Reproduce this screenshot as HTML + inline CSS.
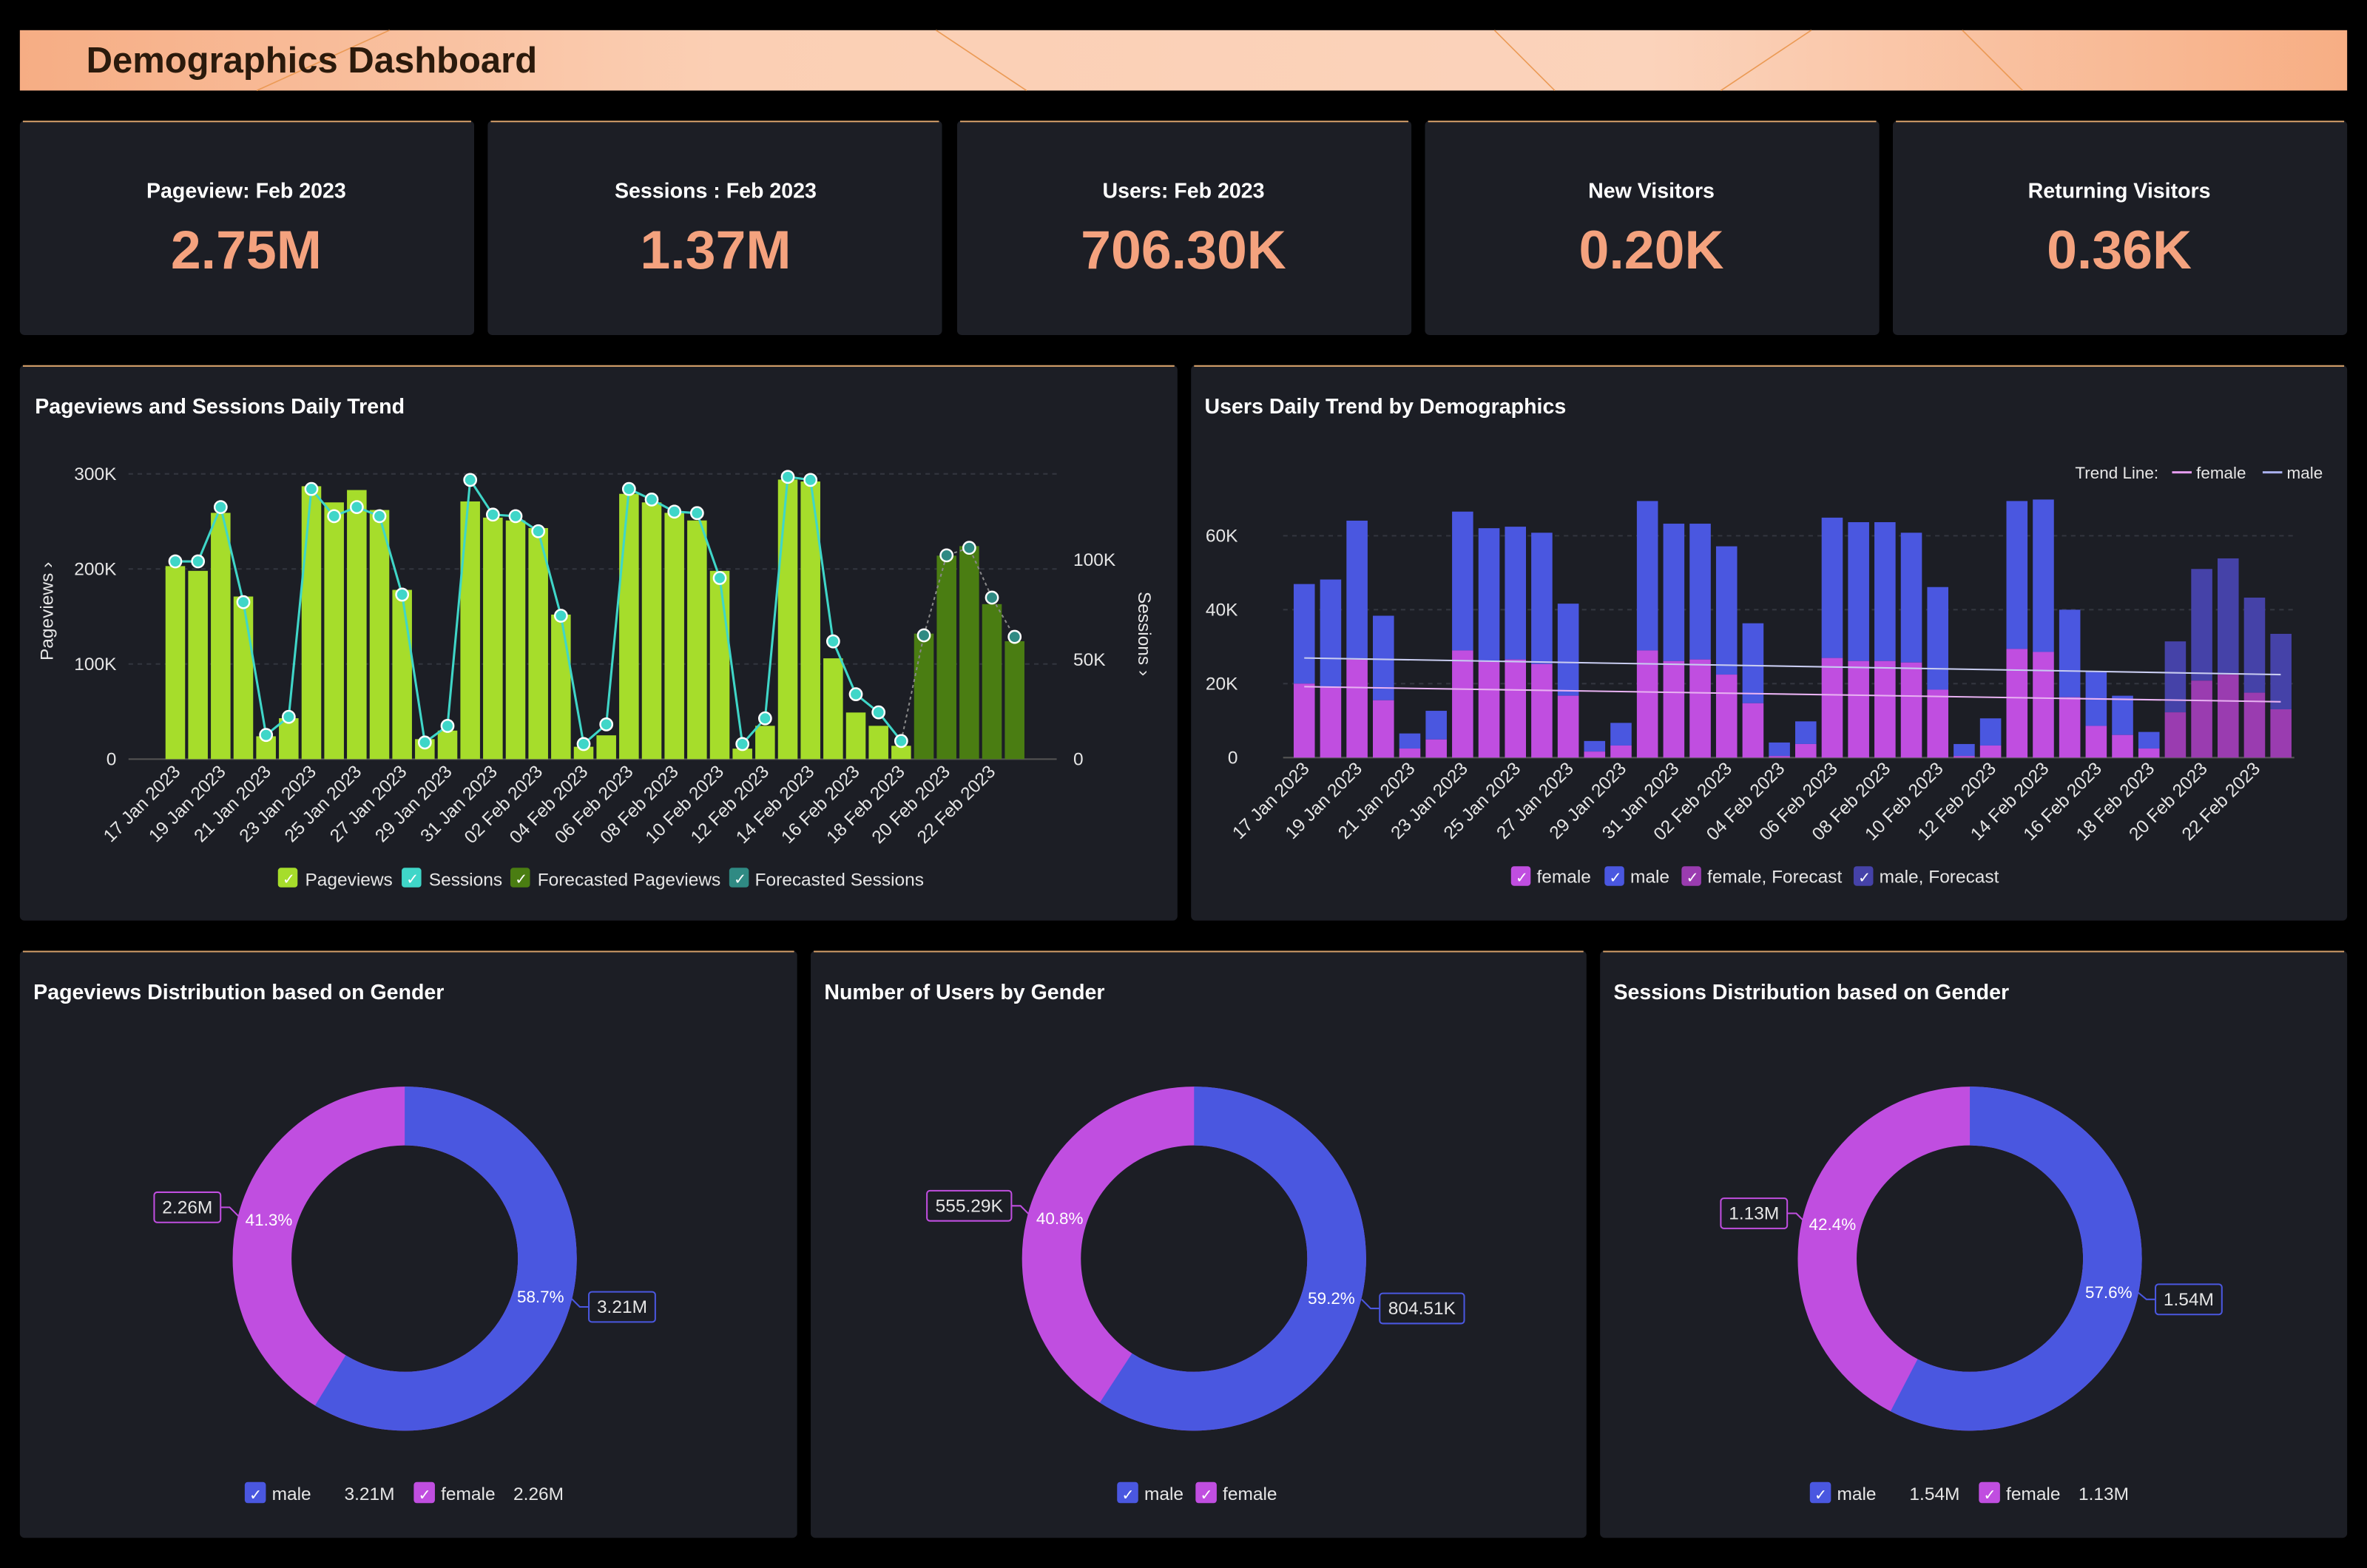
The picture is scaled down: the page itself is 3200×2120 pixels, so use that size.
<!DOCTYPE html>
<html><head><meta charset="utf-8"><style>
html,body{margin:0;padding:0;background:#000;}
svg{display:block;font-family:"Liberation Sans",sans-serif;}
</style></head><body>
<svg id="s" xmlns="http://www.w3.org/2000/svg" width="3200" height="2120" viewBox="0 0 1568 1039">
<defs>
<linearGradient id="hg" x1="0" x2="1" y1="0" y2="0">
<stop offset="0" stop-color="#f6ad84"/><stop offset="0.3" stop-color="#fbcfb4"/><stop offset="0.7" stop-color="#fbd3bb"/><stop offset="1" stop-color="#f7ae84"/></linearGradient>
</defs>
<rect width="1568" height="1039" fill="#000"/>
<rect x="13" y="20" width="1542" height="40" fill="url(#hg)"/>
<g stroke="#eb9a55" stroke-width="0.8" fill="none">
<line x1="170" y1="60" x2="258" y2="20"/><line x1="620" y1="20" x2="680" y2="60"/><line x1="990" y1="20" x2="1030" y2="60"/><line x1="1140" y1="60" x2="1200" y2="20"/><line x1="1300" y1="20" x2="1340" y2="60"/>
</g>
<text x="57" y="48" font-size="24" font-weight="bold" fill="#2b1a0c">Demographics Dashboard</text>

<g id="kpis"></g>

<!-- chart panels -->
<rect x="13" y="242" width="767" height="368" rx="3" fill="#1c1e25"/>
<line x1="15" y1="242.5" x2="778" y2="242.5" stroke="#d6a06a" stroke-width="1"/>
<rect x="789" y="242" width="766" height="368" rx="3" fill="#1c1e25"/>
<line x1="791" y1="242.5" x2="1553" y2="242.5" stroke="#d6a06a" stroke-width="1"/>
<text x="23" y="274" font-size="14" font-weight="bold" fill="#fff">Pageviews and Sessions Daily Trend</text>
<text x="798" y="274" font-size="14" font-weight="bold" fill="#fff">Users Daily Trend by Demographics</text>

<!-- chart1 axes -->
<g font-size="12" fill="#e6e6e6">
<text x="77" y="318" text-anchor="end">300K</text>
<text x="77" y="381" text-anchor="end">200K</text>
<text x="77" y="444" text-anchor="end">100K</text>
<text x="77" y="507" text-anchor="end">0</text>
<text x="711" y="375">100K</text>
<text x="711" y="441">50K</text>
<text x="711" y="507">0</text>
<text transform="translate(35,405) rotate(-90)" text-anchor="middle" font-size="12">Pageviews ›</text>
<text transform="translate(754,420) rotate(90)" text-anchor="middle" font-size="12">Sessions ›</text>
</g>
<g stroke="#33363f" stroke-dasharray="3,3"><line x1="85" y1="314" x2="700" y2="314"/><line x1="85" y1="377" x2="700" y2="377"/><line x1="85" y1="440" x2="700" y2="440"/></g>
<line x1="85" y1="503" x2="700" y2="503" stroke="#555"/>
<g id="c1"></g>
<g id="c1l" font-size="12" fill="#e6e6e6"></g>

<!-- chart2 axes -->
<g font-size="12" fill="#e6e6e6">
<text x="820" y="359" text-anchor="end">60K</text>
<text x="820" y="408" text-anchor="end">40K</text>
<text x="820" y="457" text-anchor="end">20K</text>
<text x="820" y="506" text-anchor="end">0</text>
<text x="1430" y="317" text-anchor="end" font-size="11">Trend Line:</text>
<line x1="1439" y1="313" x2="1452" y2="313" stroke="#e59cf0" stroke-width="1.5"/><text x="1455" y="317" font-size="11">female</text>
<line x1="1499" y1="313" x2="1512" y2="313" stroke="#a9b0ee" stroke-width="1.5"/><text x="1515" y="317" font-size="11">male</text>
</g>
<g stroke="#33363f" stroke-dasharray="3,3"><line x1="850" y1="355" x2="1520" y2="355"/><line x1="850" y1="404" x2="1520" y2="404"/><line x1="850" y1="453" x2="1520" y2="453"/></g>
<line x1="850" y1="502" x2="1520" y2="502" stroke="#555"/>
<g id="c2"></g>
<line x1="864" y1="455" x2="1511" y2="465" stroke="#e8b2f2" stroke-width="1"/>
<line x1="864" y1="436" x2="1511" y2="447" stroke="#c8ccf0" stroke-width="1"/>
<g id="c2l" font-size="12" fill="#e6e6e6"></g>

<!-- legends charts -->
<g font-size="12" fill="#e6e6e6">
<rect x="184" y="575" width="13" height="13" rx="2" fill="#a6dd2b"/><text x="187" y="586" font-size="10" fill="#fff">✓</text><text x="202" y="587">Pageviews</text>
<rect x="266" y="575" width="13" height="13" rx="2" fill="#3fd6c8"/><text x="269" y="586" font-size="10" fill="#fff">✓</text><text x="284" y="587">Sessions</text>
<rect x="338" y="575" width="13" height="13" rx="2" fill="#4a7d12"/><text x="341" y="586" font-size="10" fill="#fff">✓</text><text x="356" y="587">Forecasted Pageviews</text>
<rect x="483" y="575" width="13" height="13" rx="2" fill="#2f8a83"/><text x="486" y="586" font-size="10" fill="#fff">✓</text><text x="500" y="587">Forecasted Sessions</text>

<rect x="1001" y="574" width="13" height="13" rx="2" fill="#c04ee0"/><text x="1004" y="585" font-size="10" fill="#fff">✓</text><text x="1018" y="585">female</text>
<rect x="1063" y="574" width="13" height="13" rx="2" fill="#4a57e0"/><text x="1066" y="585" font-size="10" fill="#fff">✓</text><text x="1080" y="585">male</text>
<rect x="1114" y="574" width="13" height="13" rx="2" fill="#9a3cb0"/><text x="1117" y="585" font-size="10" fill="#fff">✓</text><text x="1131" y="585">female, Forecast</text>
<rect x="1228" y="574" width="13" height="13" rx="2" fill="#4542a8"/><text x="1231" y="585" font-size="10" fill="#fff">✓</text><text x="1245" y="585">male, Forecast</text>
</g>

<!-- bottom panels -->
<rect x="13" y="630" width="515" height="389" rx="3" fill="#1c1e25"/><line x1="15" y1="630.5" x2="526" y2="630.5" stroke="#d6a06a"/>
<rect x="537" y="630" width="514" height="389" rx="3" fill="#1c1e25"/><line x1="539" y1="630.5" x2="1049" y2="630.5" stroke="#d6a06a"/>
<rect x="1060" y="630" width="495" height="389" rx="3" fill="#1c1e25"/><line x1="1062" y1="630.5" x2="1553" y2="630.5" stroke="#d6a06a"/>
<g font-size="14" font-weight="bold" fill="#fff">
<text x="22" y="662">Pageviews Distribution based on Gender</text>
<text x="546" y="662">Number of Users by Gender</text>
<text x="1069" y="662">Sessions Distribution based on Gender</text>
</g>
<g id="donuts"></g>
<g font-size="12" fill="#e6e6e6">
<text x="178" y="812" font-size="11" fill="#fff" text-anchor="middle">41.3%</text>
<text x="358" y="863" font-size="11" fill="#fff" text-anchor="middle">58.7%</text>
<rect x="102" y="790" width="44" height="20" rx="2" fill="#1c1e25" stroke="#c04ee0"/><text x="124" y="804" text-anchor="middle">2.26M</text>
<rect x="390" y="856" width="44" height="20" rx="2" fill="#1c1e25" stroke="#4a57e0"/><text x="412" y="870" text-anchor="middle">3.21M</text>
<polyline points="146,800 152,800 158,806" fill="none" stroke="#c04ee0"/><polyline points="378,860 384,866 390,866" fill="none" stroke="#4a57e0"/>

<text x="702" y="811" font-size="11" fill="#fff" text-anchor="middle">40.8%</text>
<text x="882" y="864" font-size="11" fill="#fff" text-anchor="middle">59.2%</text>
<rect x="614" y="789" width="56" height="20" rx="2" fill="#1c1e25" stroke="#c04ee0"/><text x="642" y="803" text-anchor="middle">555.29K</text>
<rect x="914" y="857" width="56" height="20" rx="2" fill="#1c1e25" stroke="#4a57e0"/><text x="942" y="871" text-anchor="middle">804.51K</text>
<polyline points="670,799 676,799 682,805" fill="none" stroke="#c04ee0"/><polyline points="902,861 908,867 914,867" fill="none" stroke="#4a57e0"/>

<text x="1214" y="815" font-size="11" fill="#fff" text-anchor="middle">42.4%</text>
<text x="1397" y="860" font-size="11" fill="#fff" text-anchor="middle">57.6%</text>
<rect x="1140" y="794" width="44" height="20" rx="2" fill="#1c1e25" stroke="#c04ee0"/><text x="1162" y="808" text-anchor="middle">1.13M</text>
<rect x="1428" y="851" width="44" height="20" rx="2" fill="#1c1e25" stroke="#4a57e0"/><text x="1450" y="865" text-anchor="middle">1.54M</text>
<polyline points="1184,804 1190,804 1196,810" fill="none" stroke="#c04ee0"/><polyline points="1416,856 1422,861 1428,861" fill="none" stroke="#4a57e0"/>

<rect x="162" y="982" width="14" height="14" rx="2" fill="#4a57e0"/><text x="165" y="994" font-size="10" fill="#fff">✓</text><text x="180" y="994">male</text><text x="228" y="994">3.21M</text>
<rect x="274" y="982" width="14" height="14" rx="2" fill="#c04ee0"/><text x="277" y="994" font-size="10" fill="#fff">✓</text><text x="292" y="994">female</text><text x="340" y="994">2.26M</text>
<rect x="740" y="982" width="14" height="14" rx="2" fill="#4a57e0"/><text x="743" y="994" font-size="10" fill="#fff">✓</text><text x="758" y="994">male</text>
<rect x="792" y="982" width="14" height="14" rx="2" fill="#c04ee0"/><text x="795" y="994" font-size="10" fill="#fff">✓</text><text x="810" y="994">female</text>
<rect x="1199" y="982" width="14" height="14" rx="2" fill="#4a57e0"/><text x="1202" y="994" font-size="10" fill="#fff">✓</text><text x="1217" y="994">male</text><text x="1265" y="994">1.54M</text>
<rect x="1311" y="982" width="14" height="14" rx="2" fill="#c04ee0"/><text x="1314" y="994" font-size="10" fill="#fff">✓</text><text x="1329" y="994">female</text><text x="1377" y="994">1.13M</text>
</g>
<g font-size="14" font-weight="bold" fill="#fff" text-anchor="middle">
<text x="163" y="131">Pageview: Feb 2023</text>
<text x="474" y="131">Sessions : Feb 2023</text>
<text x="784" y="131">Users: Feb 2023</text>
<text x="1094" y="131">New Visitors</text>
<text x="1404" y="131">Returning Visitors</text>
</g>
<g font-size="36" font-weight="bold" fill="#f4a27e" text-anchor="middle">
<text x="163" y="178">2.75M</text>
<text x="474" y="178">1.37M</text>
<text x="784" y="178">706.30K</text>
<text x="1094" y="178">0.20K</text>
<text x="1404" y="178">0.36K</text>
</g>
<g font-size="12" fill="#e6e6e6" text-anchor="end">
<text transform="translate(120,512) rotate(-45)">17 Jan 2023</text>
<text transform="translate(150,512) rotate(-45)">19 Jan 2023</text>
<text transform="translate(180,512) rotate(-45)">21 Jan 2023</text>
<text transform="translate(210,512) rotate(-45)">23 Jan 2023</text>
<text transform="translate(240,512) rotate(-45)">25 Jan 2023</text>
<text transform="translate(270,512) rotate(-45)">27 Jan 2023</text>
<text transform="translate(300,512) rotate(-45)">29 Jan 2023</text>
<text transform="translate(330,512) rotate(-45)">31 Jan 2023</text>
<text transform="translate(360,512) rotate(-45)">02 Feb 2023</text>
<text transform="translate(390,512) rotate(-45)">04 Feb 2023</text>
<text transform="translate(420,512) rotate(-45)">06 Feb 2023</text>
<text transform="translate(450,512) rotate(-45)">08 Feb 2023</text>
<text transform="translate(480,512) rotate(-45)">10 Feb 2023</text>
<text transform="translate(510,512) rotate(-45)">12 Feb 2023</text>
<text transform="translate(540,512) rotate(-45)">14 Feb 2023</text>
<text transform="translate(570,512) rotate(-45)">16 Feb 2023</text>
<text transform="translate(600,512) rotate(-45)">18 Feb 2023</text>
<text transform="translate(630,512) rotate(-45)">20 Feb 2023</text>
<text transform="translate(660,512) rotate(-45)">22 Feb 2023</text>

<text transform="translate(868,510) rotate(-45)">17 Jan 2023</text>
<text transform="translate(903,510) rotate(-45)">19 Jan 2023</text>
<text transform="translate(938,510) rotate(-45)">21 Jan 2023</text>
<text transform="translate(973,510) rotate(-45)">23 Jan 2023</text>
<text transform="translate(1008,510) rotate(-45)">25 Jan 2023</text>
<text transform="translate(1043,510) rotate(-45)">27 Jan 2023</text>
<text transform="translate(1078,510) rotate(-45)">29 Jan 2023</text>
<text transform="translate(1113,510) rotate(-45)">31 Jan 2023</text>
<text transform="translate(1148,510) rotate(-45)">02 Feb 2023</text>
<text transform="translate(1183,510) rotate(-45)">04 Feb 2023</text>
<text transform="translate(1218,510) rotate(-45)">06 Feb 2023</text>
<text transform="translate(1253,510) rotate(-45)">08 Feb 2023</text>
<text transform="translate(1288,510) rotate(-45)">10 Feb 2023</text>
<text transform="translate(1323,510) rotate(-45)">12 Feb 2023</text>
<text transform="translate(1358,510) rotate(-45)">14 Feb 2023</text>
<text transform="translate(1393,510) rotate(-45)">16 Feb 2023</text>
<text transform="translate(1428,510) rotate(-45)">18 Feb 2023</text>
<text transform="translate(1463,510) rotate(-45)">20 Feb 2023</text>
<text transform="translate(1498,510) rotate(-45)">22 Feb 2023</text>
</g>
</svg>
<script>
var NS="http://www.w3.org/2000/svg";
function el(p,t,a){var e=document.createElementNS(NS,t);for(var k in a)e.setAttribute(k,a[k]);p.appendChild(e);return e;}
var k=document.getElementById("kpis");
[[13,314],[323,624],[634,935],[944,1245],[1254,1555]].forEach(function(c){
el(k,"rect",{x:c[0],y:80,width:c[1]-c[0],height:142,rx:3,fill:"#1c1e25"});
el(k,"line",{x1:c[0]+2,y1:80.5,x2:c[1]-2,y2:80.5,stroke:"#d6a06a"});});
var pv=[203,198,259,171,24,43,287,270,283,262,178,21,30,271,254,251,243,152,13,25,279,270,259,251,198,11,35,294,292,106,49,35,14,132,214,224,163,124];
var sy=[372,372,336,399,487,475,324,342,336,342,394,492,481,318,341,342,352,408,493,480,324,331,339,340,383,493,476,316,318,425,460,472,491,421,368,363,396,422];
var c1=document.getElementById("c1");
pv.forEach(function(v,i){var cx=116+i*15.03,h=v*0.63;
el(c1,"rect",{x:cx-6.5,y:503-h,width:13,height:h,fill:i<33?"#a6dd2b":"#4a7d12"});});
var p1="",p2="";sy.forEach(function(y,i){var cx=116+i*15.03;if(i<=32)p1+=cx+","+y+" ";if(i>=32)p2+=cx+","+y+" ";});
el(c1,"polyline",{points:p1,fill:"none",stroke:"#3fd6c8","stroke-width":1.5});
el(c1,"polyline",{points:p2,fill:"none",stroke:"#888","stroke-width":1,"stroke-dasharray":"2,2"});
sy.forEach(function(y,i){var cx=116+i*15.03;el(c1,"circle",{cx:cx,cy:y,r:4,fill:i<33?"#3fd6c8":"#2f8a83",stroke:"#fff","stroke-width":1.2});});
var tot=[387,384,345,408,486,471,339,350,349,353,400,491,479,332,347,347,362,413,492,478,343,346,346,353,389,493,476,332,331,404,445,461,485,425,377,370,396,420];
var fem=[453,455,437,464,496,490,431,438,437,440,461,498,494,431,438,437,447,466,501,493,436,438,438,439,457,501,494,430,432,462,481,487,496,472,451,447,459,470];
var c2=document.getElementById("c2");
tot.forEach(function(t,i){var cx=864+i*17.49,f=i>=33;
el(c2,"rect",{x:cx-7,y:t,width:14,height:fem[i]-t,fill:f?"#4542a8":"#4a57e0"});
el(c2,"rect",{x:cx-7,y:fem[i],width:14,height:502-fem[i],fill:f?"#9a3cb0":"#c04ee0"});});
var d=document.getElementById("donuts");
[[268,58.7],[791,59.2],[1305,57.6]].forEach(function(q){var r=94.5,C=2*Math.PI*r;
el(d,"circle",{cx:q[0],cy:834,r:r,fill:"none",stroke:"#c04ee0","stroke-width":39});
el(d,"circle",{cx:q[0],cy:834,r:r,fill:"none",stroke:"#4a57e0","stroke-width":39,"stroke-dasharray":(C*q[1]/100)+" "+C,transform:"rotate(-90 "+q[0]+" 834)"});});
</script>
</body></html>
